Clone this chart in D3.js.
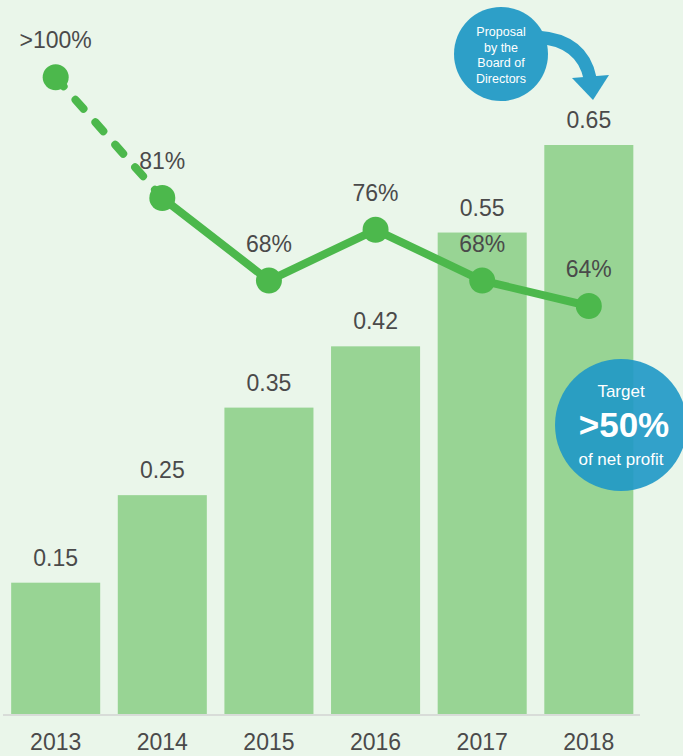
<!DOCTYPE html>
<html>
<head>
<meta charset="utf-8">
<script src="https://cdn.jsdelivr.net/npm/d3@7"></script>
<style>
  html, body { margin: 0; padding: 0; background: #eaf6ea; }
  svg { display: block; font-family: "Liberation Sans", Arial, sans-serif; }
</style>
</head>
<body>
<svg id="chart" width="683" height="756"></svg>
<script>
// Dividend per share (bars) and payout ratio (line)
const years = ["2013", "2014", "2015", "2016", "2017", "2018"];
const dividends = [0.15, 0.25, 0.35, 0.42, 0.55, 0.65];
const payout = [100, 81, 68, 76, 68, 64];
const payoutLabels = [">100%", "81%", "68%", "76%", "68%", "64%"];
const proposalLines = ["Proposal", "by the", "Board of", "Directors"];
const targetLines = ["Target", ">50%", "of net profit"];

const svg = d3.select("#chart");
const green = "#98d494", lineGreen = "#4cb84c", blue = "#1e98c6", ink = "#4a4a4a";

const x = d3.scaleBand().domain(years).range([0.5, 644]).paddingInner(0.165).paddingOuter(0.1);
const y = d3.scaleLinear().domain([0, 0.65]).range([714, 145]);
const y2 = d3.scaleLinear().domain([64, 81]).range([306, 198]);
const cx = d => x(d) + x.bandwidth() / 2;

// Bars
svg.append("g").selectAll("rect").data(years).join("rect")
  .attr("x", d => x(d)).attr("width", x.bandwidth())
  .attr("y", (d, i) => y(dividends[i]))
  .attr("height", (d, i) => y(0) - y(dividends[i]))
  .attr("fill", green);

// Bar value labels
svg.append("g").selectAll("text").data(years).join("text")
  .attr("x", cx).attr("y", (d, i) => y(dividends[i]) - 17)
  .attr("text-anchor", "middle").attr("font-size", 23).attr("fill", ink)
  .text((d, i) => dividends[i].toFixed(2));

// Baseline and year axis
svg.append("line").attr("x1", 3).attr("x2", 640).attr("y1", y(0) + 1).attr("y2", y(0) + 1)
  .attr("stroke", "#d8dcd8").attr("stroke-width", 2);
const axis = svg.append("g").attr("transform", `translate(0,${y(0)})`)
  .call(d3.axisBottom(x).tickSize(0).tickPadding(36));
axis.select(".domain").remove();
axis.selectAll("text").attr("font-size", 23).attr("fill", ink)
  .attr("font-family", "Liberation Sans, Arial, sans-serif").attr("dy", 0);

// Payout ratio line: dashed for the first segment, solid afterwards
const pts = years.map((d, i) => [cx(d), y2(payout[i])]);
const line = d3.line();
svg.append("path").attr("d", line(pts.slice(0, 2)))
  .attr("fill", "none").attr("stroke", lineGreen).attr("stroke-width", 8)
  .attr("stroke-linecap", "round").attr("stroke-dasharray", "12 18");
svg.append("path").attr("d", line(pts.slice(1)))
  .attr("fill", "none").attr("stroke", lineGreen).attr("stroke-width", 8)
  .attr("stroke-linejoin", "round");
svg.append("g").selectAll("circle").data(pts).join("circle")
  .attr("cx", d => d[0]).attr("cy", d => d[1]).attr("r", 13).attr("fill", lineGreen);
svg.append("g").selectAll("text").data(pts).join("text")
  .attr("x", d => d[0]).attr("y", d => d[1] - 29)
  .attr("text-anchor", "middle").attr("font-size", 23).attr("fill", ink)
  .text((d, i) => payoutLabels[i]);

// Proposal bubble with curved arrow toward the 2018 bar
const bub = svg.append("g").attr("opacity", 0.92);
bub.append("path").attr("d", "M537,37 Q582,40 590,78")
  .attr("fill", "none").attr("stroke", blue).attr("stroke-width", 13).attr("stroke-linecap", "round");
bub.append("path").attr("d", "M572,78 L609,75 L593,100 Z").attr("fill", blue);
bub.append("circle").attr("cx", 501).attr("cy", 54).attr("r", 47).attr("fill", blue);
svg.append("g").selectAll("text").data(proposalLines).join("text")
  .attr("x", 501).attr("y", (d, i) => 36 + i * 15.7)
  .attr("text-anchor", "middle").attr("font-size", 12.5).attr("fill", "#fff")
  .text(d => d);

// Target bubble
svg.append("circle").attr("cx", 621).attr("cy", 425).attr("r", 66)
  .attr("fill", blue).attr("opacity", 0.9);
const tg = svg.append("g").attr("text-anchor", "middle").attr("fill", "#fff");
tg.append("text").attr("x", 621).attr("y", 397).attr("font-size", 17).text(targetLines[0]);
tg.append("text").attr("x", 624).attr("y", 437).attr("font-size", 35).attr("font-weight", "bold").text(targetLines[1]);
tg.append("text").attr("x", 621).attr("y", 465).attr("font-size", 17).text(targetLines[2]);
</script>
</body>
</html>
